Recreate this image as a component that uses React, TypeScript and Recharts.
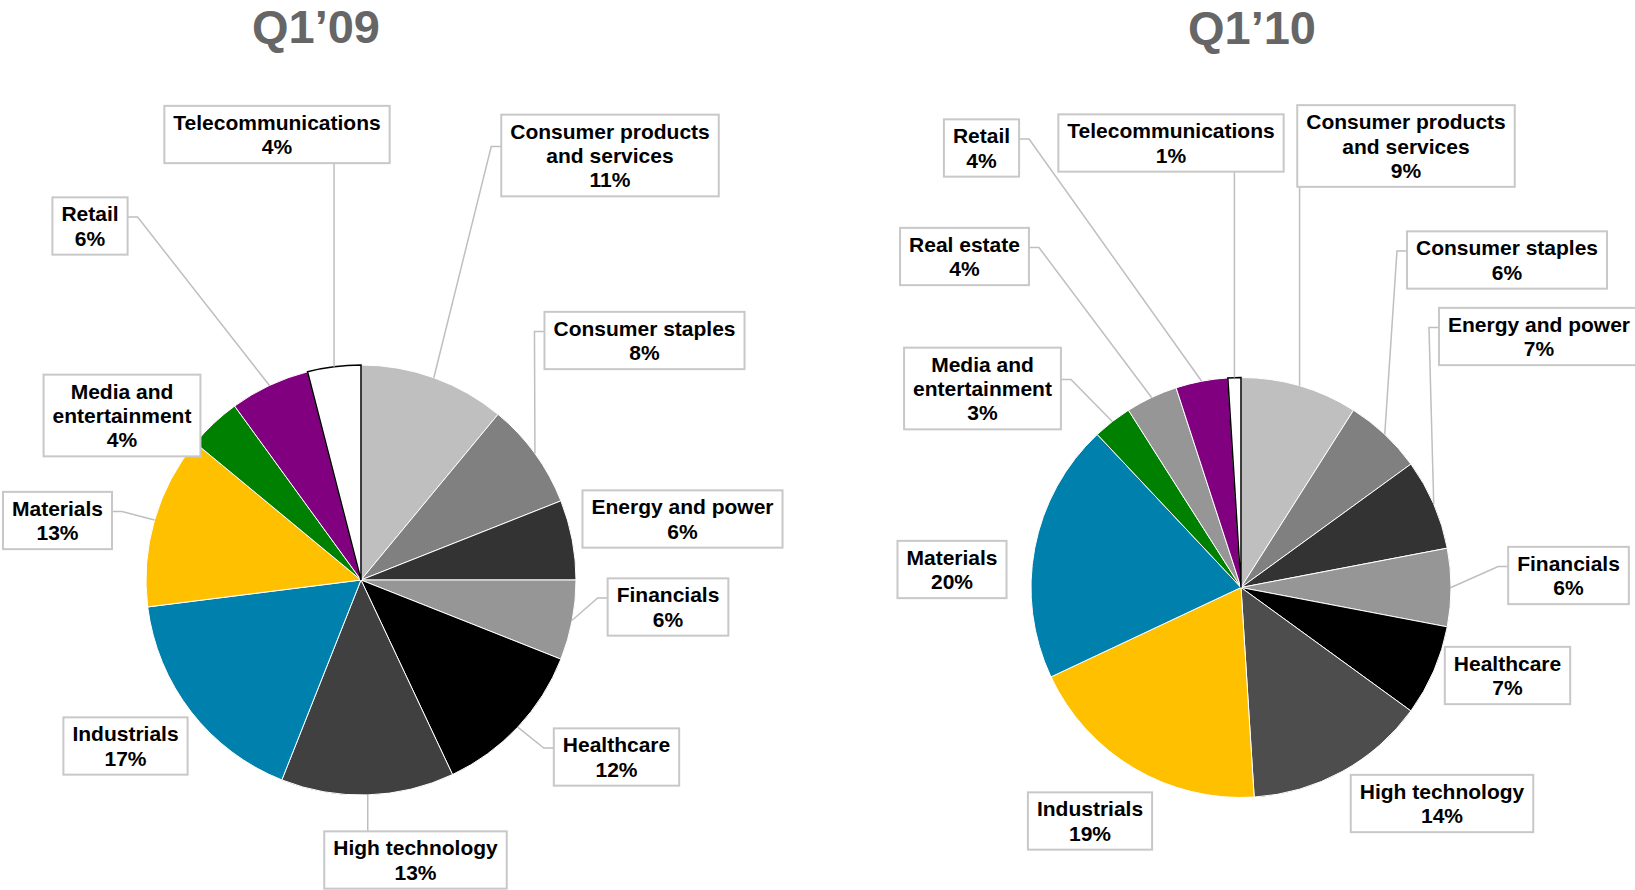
import { Cell, Pie, PieChart } from "recharts";

const sectors09 = [
  "Consumer products and services",
  "Consumer staples",
  "Energy and power",
  "Financials",
  "Healthcare",
  "High technology",
  "Industrials",
  "Materials",
  "Media and entertainment",
  "Retail",
  "Telecommunications",
];
const shares09 = [11, 8, 6, 6, 12, 13, 17, 13, 4, 6, 4];
const colors09 = ["#bfbfbf", "#808080", "#333333", "#969696", "#000000", "#404040", "#0080ad", "#ffc000", "#008000", "#800080", "#ffffff"];

const sectors10 = [
  "Consumer products and services",
  "Consumer staples",
  "Energy and power",
  "Financials",
  "Healthcare",
  "High technology",
  "Industrials",
  "Materials",
  "Media and entertainment",
  "Real estate",
  "Retail",
  "Telecommunications",
];
const shares10 = [9, 6, 7, 6, 7, 14, 19, 20, 3, 4, 4, 1];
const colors10 = ["#bfbfbf", "#808080", "#333333", "#969696", "#000000", "#4d4d4d", "#ffc000", "#0080ad", "#008000", "#969696", "#800080", "#ffffff"];

const titles = ["Q1\u201909", "Q1\u201910"];

// label box centres (page px), and whether a leader line goes to the slice
type Spot = { x: number; y: number; line: boolean };
const spots09: Spot[] = [
  { x: 610, y: 155.5, line: true },
  { x: 644.5, y: 340.5, line: true },
  { x: 682.5, y: 519, line: false },
  { x: 668, y: 607, line: true },
  { x: 616.5, y: 757, line: true },
  { x: 415.5, y: 860, line: true },
  { x: 125.5, y: 746, line: false },
  { x: 57.5, y: 520.5, line: true },
  { x: 122, y: 415.5, line: false },
  { x: 90, y: 226, line: true },
  { x: 277, y: 134.5, line: true },
];
const spots10: Spot[] = [
  { x: 1406, y: 146, line: true },
  { x: 1507, y: 260, line: true },
  { x: 1539, y: 336.5, line: true },
  { x: 1568.5, y: 575.5, line: true },
  { x: 1507.5, y: 675.5, line: false },
  { x: 1442, y: 803.5, line: false },
  { x: 1090, y: 821, line: false },
  { x: 952, y: 569.5, line: false },
  { x: 982.5, y: 388.5, line: true },
  { x: 964.5, y: 256.5, line: true },
  { x: 981.5, y: 148, line: true },
  { x: 1171, y: 143, line: true },
];

const FONT = "'Liberation Sans', Arial, sans-serif";
const LINE = 24.4;
const RAD = Math.PI / 180;

let ctx: CanvasRenderingContext2D | null = null;
function measure(s: string) {
  if (!ctx) ctx = document.createElement("canvas").getContext("2d");
  if (!ctx) return s.length * 11;
  ctx.font = `bold 21px ${FONT}`;
  return ctx.measureText(s).width;
}

// long names break at the space nearest the middle
function wrapName(name: string) {
  if (name.length <= 20) return [name];
  const mid = name.length / 2;
  let best = -1;
  for (let i = 0; i < name.length; i++) {
    if (name[i] === " " && (best < 0 || Math.abs(i - mid) < Math.abs(best - mid))) best = i;
  }
  return [name.slice(0, best), name.slice(best + 1)];
}

function makeLabel(spots: Spot[], names: string[]) {
  return (props: any) => {
    const { cx, cy, midAngle, outerRadius, index, value } = props;
    const spot = spots[index];
    const lines = [...wrapName(names[index]), `${value}%`];
    const w = Math.max(...lines.map(measure)) + 18;
    const h = lines.length * LINE + 8.5;
    const x0 = spot.x - w / 2;
    const x1 = spot.x + w / 2;
    const y0 = spot.y - h / 2;
    const y1 = spot.y + h / 2;
    const px = cx + outerRadius * Math.cos(-midAngle * RAD);
    const py = cy + outerRadius * Math.sin(-midAngle * RAD);
    let pts = "";
    if (spot.line) {
      const ay = spot.y - 9;
      if (px < x0) pts = `${px},${py} ${x0 - 10},${ay} ${x0},${ay}`;
      else if (px > x1) pts = `${px},${py} ${x1 + 10},${ay} ${x1},${ay}`;
      else pts = `${px},${py} ${px},${py > y1 ? y1 : y0}`;
    }
    return (
      <g key={`lbl-${index}`}>
        {pts && <polyline points={pts} fill="none" stroke="#bfbfbf" strokeWidth={1.5} />}
        <rect x={x0} y={y0} width={w} height={h} fill="#fff" stroke="#c8c8c8" strokeWidth={2} />
        {lines.map((t, i) => (
          <text
            key={i}
            x={spot.x}
            y={spot.y + (i - (lines.length - 1) / 2) * LINE + 7.5}
            textAnchor="middle"
            fontFamily={FONT}
            fontWeight="bold"
            fontSize={21}
            fill="#000"
          >
            {t}
          </text>
        ))}
      </g>
    );
  };
}

const data09 = sectors09.map((name, i) => ({ name, value: shares09[i] }));
const data10 = sectors10.map((name, i) => ({ name, value: shares10[i] }));

export default function App() {
  return (
    <div style={{ position: "absolute", left: 0, top: 0, width: 1635, height: 890, background: "#fff" }}>
      <PieChart width={1635} height={890} margin={{ top: 0, right: 0, bottom: 0, left: 0 }}>
        <Pie
          data={data09}
          dataKey="value"
          nameKey="name"
          cx={361}
          cy={580}
          outerRadius={215}
          startAngle={90}
          endAngle={-270}
          stroke="#fff"
          strokeWidth={1}
          labelLine={false}
          label={makeLabel(spots09, sectors09)}
          isAnimationActive={false}
        >
          {data09.map((d, i) => (
            <Cell
              key={d.name}
              fill={colors09[i]}
              stroke={colors09[i] === "#ffffff" ? "#000" : "#fff"}
              strokeWidth={colors09[i] === "#ffffff" ? 1.5 : 1}
            />
          ))}
        </Pie>
        <Pie
          data={data10}
          dataKey="value"
          nameKey="name"
          cx={1241}
          cy={587.5}
          outerRadius={210}
          startAngle={90}
          endAngle={-270}
          stroke="#fff"
          strokeWidth={1}
          labelLine={false}
          label={makeLabel(spots10, sectors10)}
          isAnimationActive={false}
        >
          {data10.map((d, i) => (
            <Cell
              key={d.name}
              fill={colors10[i]}
              stroke={colors10[i] === "#ffffff" ? "#000" : "#fff"}
              strokeWidth={colors10[i] === "#ffffff" ? 1.5 : 1}
            />
          ))}
        </Pie>
      </PieChart>
      <svg width={1635} height={60} style={{ position: "absolute", left: 0, top: 0, pointerEvents: "none" }}>
        <text x={316} y={42.5} textAnchor="middle" fontFamily={FONT} fontWeight="bold" fontSize={47} fill="#666">
          {titles[0]}
        </text>
        <text x={1252} y={43.5} textAnchor="middle" fontFamily={FONT} fontWeight="bold" fontSize={47} fill="#666">
          {titles[1]}
        </text>
      </svg>
    </div>
  );
}
